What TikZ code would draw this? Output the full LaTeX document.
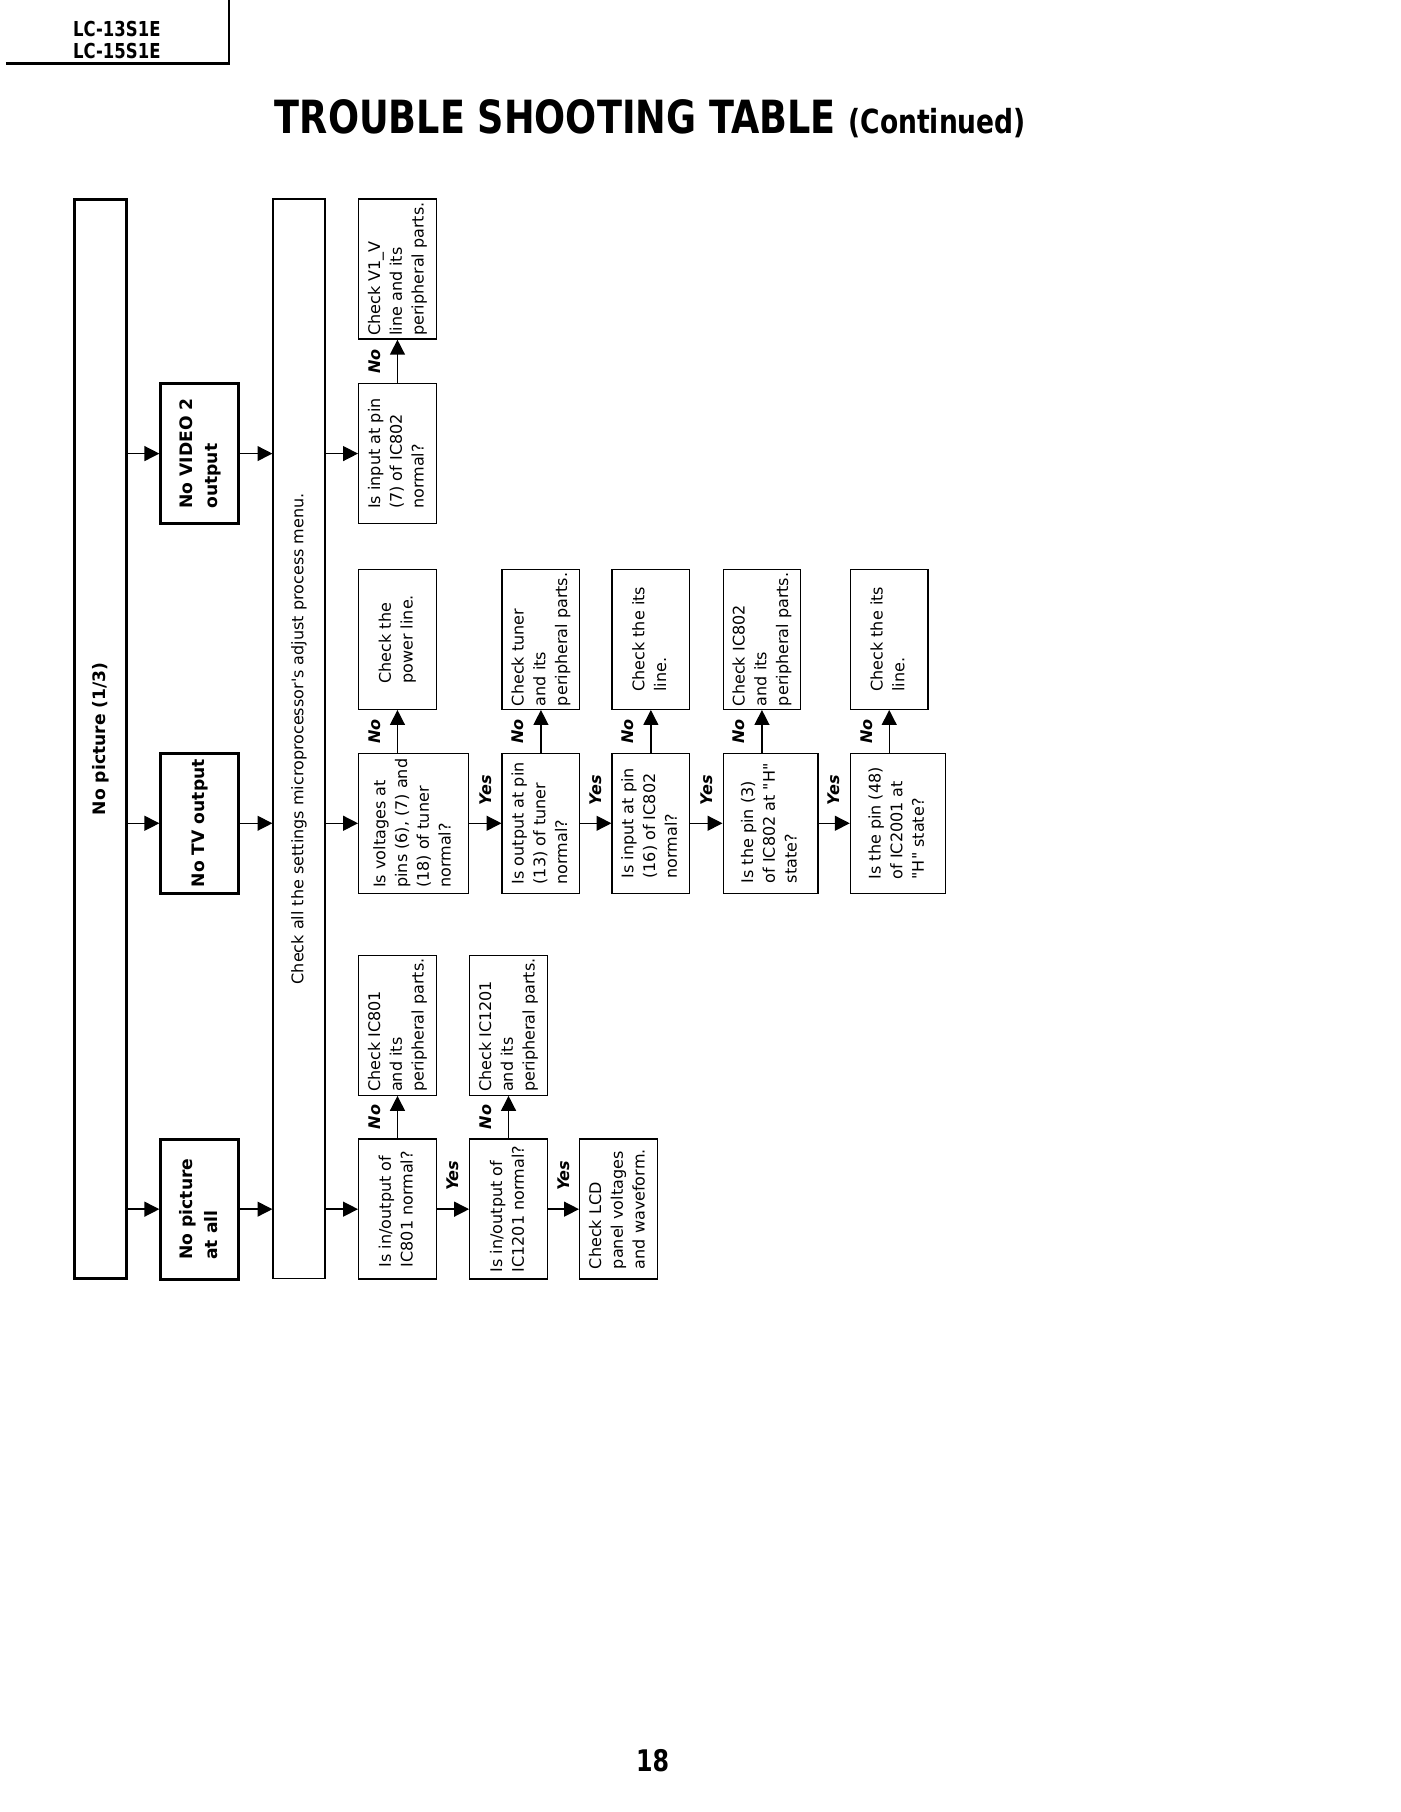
\documentclass[tikz,border=0pt]{standalone}
\usepackage{fontspec}
\setmainfont{DejaVu Sans}[Ligatures=TeXOff]
\setsansfont{DejaVu Sans}[Ligatures=TeXOff]
\newfontfamily\condfont[FakeStretch=0.8]{DejaVu Sans}
\usepackage{graphicx}
\usetikzlibrary{arrows.meta}

\newcommand\pxu{0.5058pt}
\newcommand\rot[1]{\rotatebox{90}{\begin{tabular}{@{}l@{}}#1\end{tabular}}}

\begin{document}
\begin{tikzpicture}[x=0.5058pt, y=-0.5058pt, -{Triangle[length=6.5pt,width=6.5pt]}, line width=0.6pt,
      every node/.append style={inner sep=0pt, font=\fontsize{7}{9.5}\selectfont}]
    \tikzstyle{tall} = [draw, minimum width=45*\pxu, minimum height=933*\pxu]
    \tikzstyle{head} = [draw, line width=1.3pt, minimum width=67*\pxu, minimum height=121*\pxu,
                        font=\fontsize{7.5}{11}\selectfont\bfseries]
    \tikzstyle{ask} = [draw, minimum width=67*\pxu, minimum height=121*\pxu]
    \tikzstyle{yeslbl} = [yshift=14.5pt, rotate=90, font=\fontsize{7}{8}\selectfont\bfseries\itshape]
    \tikzstyle{nolbl} = [xshift=-10pt, rotate=90, font=\fontsize{7}{8}\selectfont\bfseries\itshape]
    \useasboundingbox (0,0) rectangle (1210,1566);
    % page head
    \draw[-, line width=1pt] (5,55) -- (198,55) -- (198,0);
    \node[align=center, font=\condfont\bfseries\fontsize{9}{9.6}\selectfont] (model) at (101,34.5) {LC-13S1E\\LC-15S1E};
    \node[anchor=base west, font=\condfont\bfseries] (title) at (237,115)
      {\fontsize{20}{24}\selectfont TROUBLE SHOOTING TABLE \fontsize{14.5}{17}\selectfont(Continued)};
    \node[font=\condfont\bfseries\fontsize{13}{15}\selectfont] (page) at (564,1522) {18};
    % first columns
    \node[tall, line width=1.3pt, font=\fontsize{7.5}{11}\selectfont\bfseries] (nopic) at (86.5,638.5) {\rot{No picture (1/3)}};
    \node[head] (novideo) at (172.5,392) {\rot{No VIDEO 2\\output}};
    \node[head] (notv) at (172.5,711.5) {\rot{No TV output}};
    \node[head] (noall) at (172.5,1045) {\rot{No picture\\at all}};
    \node[tall] (adjust) at (258.5,638.5) {\rot{Check all the settings microprocessor's adjust process menu.}};
    % no video 2
    \node[ask] (v2in) at (343.5,392) {\rot{Is input at pin\\(7) of IC802\\normal?}};
    \node[ask] (v2chk) at (343.5,232.5) {\rot{Check V1\_V\\line and its\\peripheral parts.}};
    % no tv
    \node[ask, minimum width=95*\pxu] (tvvolt) at (357.5,711.5) {\rot{Is voltages at\\pins (6), (7) and\\(18) of tuner\\normal?}};
    \node[ask] (tvpow) at (343.5,552.5) {\rot{Check the\\power line.}};
    \node[ask] (tvout) at (467.5,711.5) {\rot{Is output at pin\\(13) of tuner\\normal?}};
    \node[ask] (tvtun) at (467.5,552.5) {\rot{Check tuner\\and its\\peripheral parts.}};
    \node[ask] (tvin) at (562.5,711.5) {\rot{Is input at pin\\(16) of IC802\\normal?}};
    \node[ask] (tvline) at (562.5,552.5) {\rot{Check the its\\line.}};
    \node[ask, minimum width=82*\pxu] (tvpin3) at (666,711.5) {\rot{Is the pin (3)\\of IC802 at "H"\\state?}};
    \node[ask] (tvic) at (658.5,552.5) {\rot{Check IC802\\and its\\peripheral parts.}};
    \node[ask, minimum width=82*\pxu] (tvpin48) at (776,711.5) {\rot{Is the pin (48)\\of IC2001 at\\"H" state?}};
    \node[ask] (tvline2) at (768.5,552.5) {\rot{Check the its\\line.}};
    % no picture at all
    \node[ask] (allin) at (343.5,1045) {\rot{Is in/output of\\IC801 normal?}};
    \node[ask] (allic) at (343.5,886) {\rot{Check IC801\\and its\\peripheral parts.}};
    \node[ask] (allin2) at (439.5,1045) {\rot{Is in/output of\\IC1201 normal?}};
    \node[ask] (allic2) at (439.5,886) {\rot{Check IC1201\\and its\\peripheral parts.}};
    \node[ask] (alllcd) at (534.5,1045) {\rot{Check LCD\\panel voltages\\and waveform.}};
    % arrows
    \foreach \n in {novideo,notv,noall} {
      \draw (nopic.east |- \n) -- (\n.west);
      \draw (\n.east) -- (\n.east -| adjust.west);
    }
    \foreach \n in {v2in,tvvolt,allin}
      \draw (adjust.east |- \n) -- (\n.west);
    \foreach \q/\c in {v2in/v2chk,tvvolt/tvpow,tvout/tvtun,tvin/tvline,tvpin3/tvic,tvpin48/tvline2,allin/allic,allin2/allic2}
      \draw (\q.north -| \c) -- (\c.south) node[midway, nolbl] {No};
    \foreach \a/\b in {tvvolt/tvout,tvout/tvin,tvin/tvpin3,tvpin3/tvpin48,allin/allin2,allin2/alllcd}
      \draw (\a.east) -- (\b.west) node[midway, yeslbl] {Yes};
  \end{tikzpicture}
\end{document}
